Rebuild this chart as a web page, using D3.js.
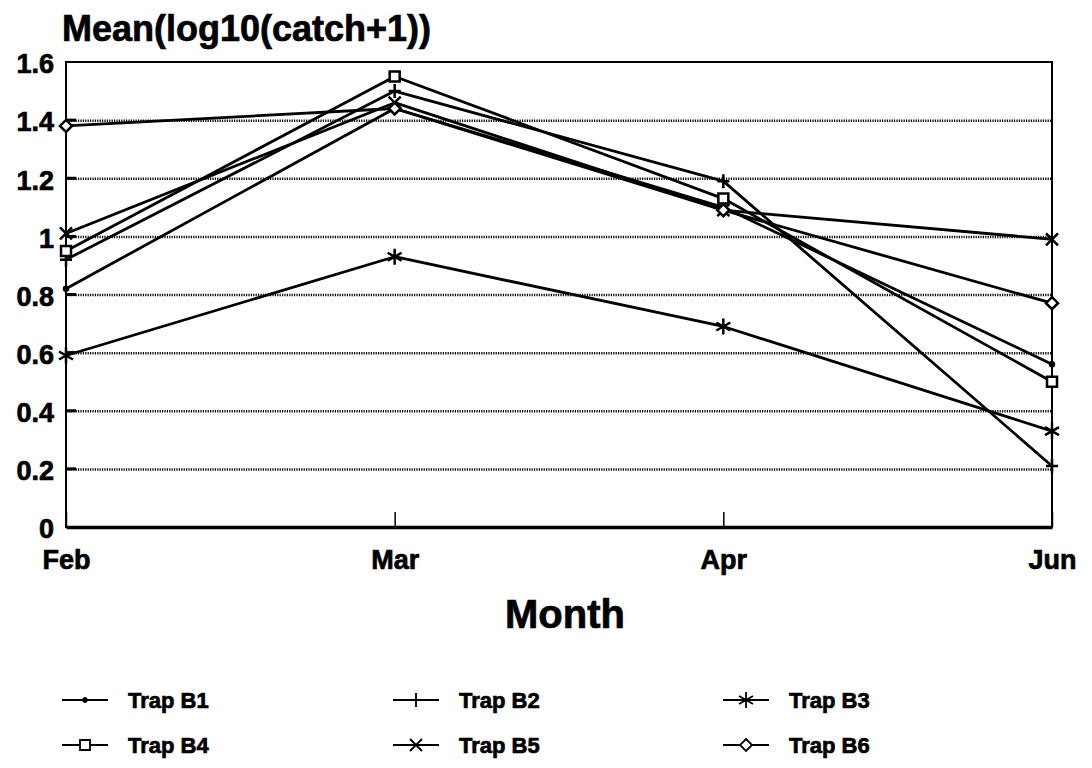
<!DOCTYPE html>
<html>
<head>
<meta charset="utf-8">
<script src="https://cdn.jsdelivr.net/npm/d3@7"></script>
<style>
  body { margin: 0; background: #fff; }
  svg text { font-family: "Liberation Sans", Arial, sans-serif; font-weight: bold; fill: #000; stroke: #000; stroke-width: 0.7px; }
</style>
</head>
<body>
<svg id="chart"></svg>
<script>
var months = ["Feb", "Mar", "Apr", "Jun"];
var yTicks = [0, 0.2, 0.4, 0.6, 0.8, 1, 1.2, 1.4, 1.6];
var trapNames = ["Trap B1", "Trap B2", "Trap B3", "Trap B4", "Trap B5", "Trap B6"];
var trapB1 = [0.82, 1.44, 1.10, 0.56];
var trapB2 = [0.92, 1.50, 1.19, 0.21];
var trapB3 = [0.59, 0.93, 0.69, 0.33];
var trapB4 = [0.95, 1.55, 1.13, 0.50];
var trapB5 = [1.01, 1.46, 1.09, 0.99];
var trapB6 = [1.38, 1.44, 1.09, 0.77];

var w = 1092;
var h = 768;

var svg = d3.select("#chart")
  .attr("width", w)
  .attr("height", h);

var x = d3.scalePoint().domain(months).range([66, 1052]);
var y = d3.scaleLinear().domain([0, 1.6]).range([527, 62]);

var series = [trapB1, trapB2, trapB3, trapB4, trapB5, trapB6].map(function(vals, i) {
  return {
    name: trapNames[i],
    marker: ["dot", "plus", "star", "square", "cross", "diamond"][i],
    points: vals.map(function(v, j) { return {month: months[j], value: v}; })
  };
});

// marker shapes
function markerPath(type) {
  if (type == "dot") return "M-2,0a2,2 0 1,0 4,0a2,2 0 1,0 -4,0";
  if (type == "plus") return "M-6,0H6M0,-7V7";
  if (type == "star") return "M0,-8V8M-7,-4L7,4M-7,4L7,-4";
  if (type == "square") return "M-5,-5H5V5H-5Z";
  if (type == "cross") return "M-6,-6L6,6M-6,6L6,-6";
  if (type == "diamond") return "M0,-6L6,0L0,6L-6,0Z";
}

// gridlines (dotted)
svg.append("g")
  .attr("class", "grid")
  .attr("transform", "translate(66,0)")
  .call(d3.axisLeft(y).tickValues(yTicks.slice(1, -1)).tickSize(-986).tickFormat(""))
  .call(function(g) { g.select(".domain").remove(); })
  .selectAll("line")
  .attr("stroke", "#000")
  .attr("stroke-width", 2.5)
  .attr("stroke-dasharray", "1.2,1.2");

// inward ticks on left
svg.append("g")
  .selectAll("line")
  .data(yTicks.slice(1, -1))
  .enter()
  .append("line")
  .attr("x1", 66).attr("x2", 76)
  .attr("y1", function(d) { return y(d); })
  .attr("y2", function(d) { return y(d); })
  .attr("stroke", "#000")
  .attr("stroke-width", 3);

// frame
svg.append("rect")
  .attr("x", 66).attr("y", 62)
  .attr("width", 986).attr("height", 465)
  .attr("fill", "none")
  .attr("stroke", "#000")
  .attr("stroke-width", 2);

// y axis labels
var yAxis = svg.append("g")
  .attr("transform", "translate(66,0)")
  .call(d3.axisLeft(y).tickValues(yTicks).tickSize(0).tickPadding(12).tickFormat(d3.format("~g")));
yAxis.select(".domain").remove();
yAxis.selectAll("text")
  .attr("font-size", 27)
  .attr("dy", "0.4em");

// x axis
var xAxis = svg.append("g")
  .attr("transform", "translate(0,527)")
  .call(d3.axisBottom(x).tickSizeInner(-15).tickSizeOuter(0).tickPadding(23));
xAxis.select(".domain")
  .attr("stroke-width", 3.5);
xAxis.selectAll("line").attr("stroke-width", 1.5);
xAxis.selectAll("text").attr("font-size", 27);

// title + axis label
svg.append("text")
  .attr("x", 62).attr("y", 41)
  .attr("font-size", 36)
  .text("Mean(log10(catch+1))");

svg.append("text")
  .attr("x", 565).attr("y", 628)
  .attr("text-anchor", "middle")
  .attr("font-size", 40)
  .text("Month");

// lines
var line = d3.line()
  .x(function(d) { return x(d.month); })
  .y(function(d) { return y(d.value); });

var traps = svg.append("g").attr("class", "traps")
  .selectAll("g")
  .data(series)
  .enter()
  .append("g");

traps.append("path")
  .attr("d", function(d) { return line(d.points); })
  .attr("fill", "none")
  .attr("stroke", "#000")
  .attr("stroke-width", 2.8)
  .attr("stroke-linejoin", "round");

traps.selectAll(".mk")
  .data(function(d) { return d.points.map(function(p) { return {p: p, type: d.marker}; }); })
  .enter()
  .append("path")
  .attr("class", "mk")
  .attr("transform", function(d) { return "translate(" + x(d.p.month) + "," + y(d.p.value) + ")"; })
  .attr("d", function(d) { return markerPath(d.type); })
  .attr("fill", function(d) { return d.type == "dot" ? "#000" : "#fff"; })
  .attr("stroke", "#000")
  .attr("stroke-width", 2.5);

// legend
var legend = svg.append("g")
  .selectAll("g")
  .data(series)
  .enter()
  .append("g")
  .attr("transform", function(d, i) {
    return "translate(" + [62, 393, 723][i % 3] + "," + [700, 745][Math.floor(i / 3)] + ")";
  });

legend.append("line")
  .attr("x1", 0).attr("x2", 46)
  .attr("stroke", "#000")
  .attr("stroke-width", 2.2);

legend.append("path")
  .attr("transform", "translate(23,0)")
  .attr("d", function(d) { return markerPath(d.marker); })
  .attr("fill", function(d) { return d.marker == "dot" ? "#000" : "#fff"; })
  .attr("stroke", "#000")
  .attr("stroke-width", 1.8);

legend.append("text")
  .attr("x", 66).attr("y", 8)
  .attr("font-size", 22)
  .text(function(d) { return d.name; });
</script>
</body>
</html>
